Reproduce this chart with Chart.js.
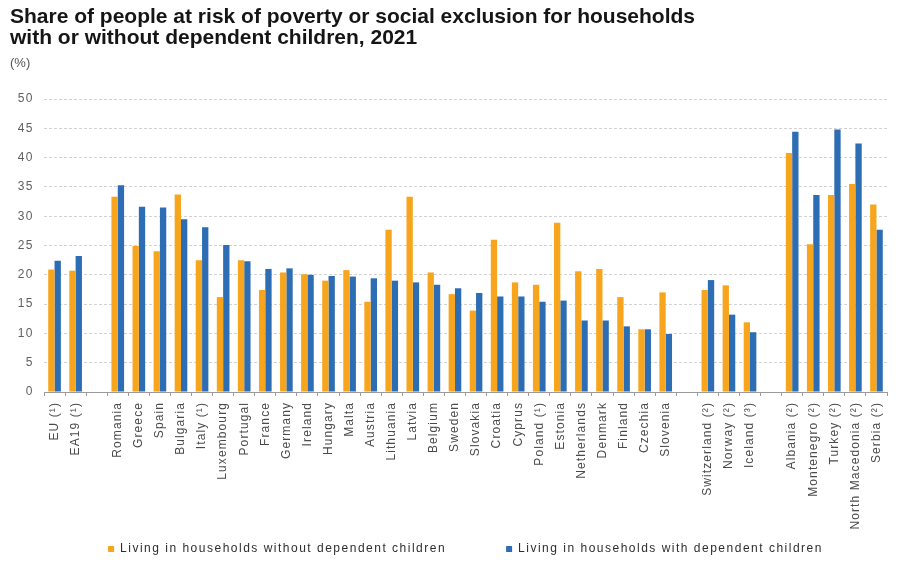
<!DOCTYPE html>
<html>
<head>
<meta charset="utf-8">
<title>At risk of poverty or social exclusion, households with or without dependent children, 2021</title>
<script src="https://cdn.jsdelivr.net/npm/chart.js@4.4.1/dist/chart.umd.min.js"></script>
<style>
  html, body { margin: 0; padding: 0; background: #ffffff; }
  #wrap { width: 902px; height: 562px; }
</style>
</head>
<body>
<div id="wrap"><canvas id="chart" width="902" height="562"></canvas></div>
<script>
// Countries (empty strings separate EU aggregates, member states, EFTA and candidate countries)
const countries = [
  'EU (¹)', 'EA19 (¹)', '',
  'Romania', 'Greece', 'Spain', 'Bulgaria', 'Italy (¹)', 'Luxembourg', 'Portugal', 'France',
  'Germany', 'Ireland', 'Hungary', 'Malta', 'Austria', 'Lithuania', 'Latvia', 'Belgium',
  'Sweden', 'Slovakia', 'Croatia', 'Cyprus', 'Poland (¹)', 'Estonia', 'Netherlands',
  'Denmark', 'Finland', 'Czechia', 'Slovenia', '',
  'Switzerland (²)', 'Norway (²)', 'Iceland (³)', '',
  'Albania (²)', 'Montenegro (²)', 'Turkey (²)', 'North Macedonia (²)', 'Serbia (²)'
];

// Share (%) living in households without dependent children
const withoutChildren = [
  20.9, 20.7, null,
  33.3, 24.9, 24.0, 33.7, 22.5, 16.2, 22.5, 17.4,
  20.4, 20.1, 19.0, 20.8, 15.4, 27.7, 33.3, 20.4,
  16.7, 13.9, 26.0, 18.7, 18.3, 28.9, 20.6,
  21.0, 16.2, 10.7, 17.0, null,
  17.4, 18.2, 11.9, null,
  40.8, 25.2, 33.6, 35.5, 32.0
];

// Share (%) living in households with dependent children
const withChildren = [
  22.4, 23.2, null,
  35.3, 31.6, 31.5, 29.5, 28.1, 25.1, 22.3, 21.0,
  21.1, 20.0, 19.8, 19.7, 19.4, 19.0, 18.7, 18.3,
  17.7, 16.9, 16.3, 16.3, 15.4, 15.6, 12.2,
  12.2, 11.2, 10.7, 9.9, null,
  19.1, 13.2, 10.2, null,
  44.4, 33.6, 44.8, 42.4, 27.7
];

const seriesNames = [
  'Living in households without dependent children',
  'Living in households with dependent children'
];

const yMin = 0;
const yMax = 50;
const yStep = 5;

const FONT = "'Liberation Sans', Arial, Helvetica, sans-serif";
const ORANGE = '#F8A51E';
const BLUE = '#2C6DB4';

// Wider tracking for tick and legend labels
const TRACKING = { x: '1.1px', y: '1.5px', legend: '1.5px' };

function withTracking(obj, method, spacing) {
  if (!obj || obj['_tracked_' + method]) return;
  const original = obj[method];
  obj[method] = function (...args) {
    const ctx = this.ctx;
    ctx.save();
    ctx.letterSpacing = spacing;
    try {
      return original.apply(this, args);
    } finally {
      ctx.restore();
    }
  };
  obj['_tracked_' + method] = true;
}

const trackingPlugin = {
  id: 'labelTracking',
  beforeLayout(chart) {
    const x = chart.scales.x;
    // let the long rotated country names run below the axis box
    if (x && !x._unclipped) {
      x._computeLabelArea = () => undefined;
      x._unclipped = true;
    }
    withTracking(x, 'drawLabels', TRACKING.x);
    withTracking(chart.scales.y, 'drawLabels', TRACKING.y);
    withTracking(chart.legend, 'fit', TRACKING.legend);
    withTracking(chart.legend, 'draw', TRACKING.legend);
  }
};

new Chart(document.getElementById('chart'), {
  type: 'bar',
  data: {
    labels: countries,
    datasets: [
      {
        label: seriesNames[0],
        data: withoutChildren,
        backgroundColor: ORANGE,
        borderWidth: 0
      },
      {
        label: seriesNames[1],
        data: withChildren,
        backgroundColor: BLUE,
        borderWidth: 0
      }
    ]
  },
  plugins: [trackingPlugin],
  options: {
    responsive: false,
    maintainAspectRatio: false,
    devicePixelRatio: 1,
    animation: false,
    events: [],
    layout: { padding: { top: 0, left: 10, right: 15, bottom: -3 } },
    datasets: {
      bar: { categoryPercentage: 0.6, barPercentage: 1.0 }
    },
    scales: {
      x: {
        grid: {
          display: true,
          drawOnChartArea: false,
          drawTicks: true,
          tickLength: 4,
          tickColor: '#9b9b9b',
          offset: true
        },
        border: { display: true, color: '#9b9b9b', width: 1 },
        ticks: {
          autoSkip: false,
          minRotation: 90,
          maxRotation: 90,
          padding: 6,
          color: '#4a4a4a',
          font: { family: FONT, size: 12 }
        },
        afterFit(scale) { scale.height = 91; }
      },
      y: {
        min: yMin,
        max: yMax,
        grid: {
          color: '#d2d2d2',
          lineWidth: 1,
          drawTicks: false
        },
        border: { display: false, dash: [3, 2] },
        ticks: {
          stepSize: yStep,
          padding: 10,
          color: '#5f5f5f',
          font: { family: FONT, size: 12 }
        },
        afterFit(scale) { scale.width = 34; }
      }
    },
    plugins: {
      title: {
        display: true,
        text: [
          'Share of people at risk of poverty or social exclusion for households',
          'with or without dependent children, 2021'
        ],
        align: 'start',
        color: '#151515',
        font: { family: FONT, size: 21, weight: 'bold', lineHeight: 1.0 },
        padding: { top: 6.5, bottom: 4 }
      },
      subtitle: {
        display: true,
        text: '(%)',
        align: 'start',
        color: '#555555',
        font: { family: FONT, size: 13, lineHeight: 1.2 },
        padding: { top: 3.5, bottom: 27.4 }
      },
      legend: {
        position: 'bottom',
        fullSize: false,
        labels: {
          boxWidth: 6,
          boxHeight: 6,
          padding: 60,
          color: '#2e2e2e',
          font: { family: FONT, size: 12 }
        }
      },
      tooltip: { enabled: false }
    }
  }
});
</script>
</body>
</html>
